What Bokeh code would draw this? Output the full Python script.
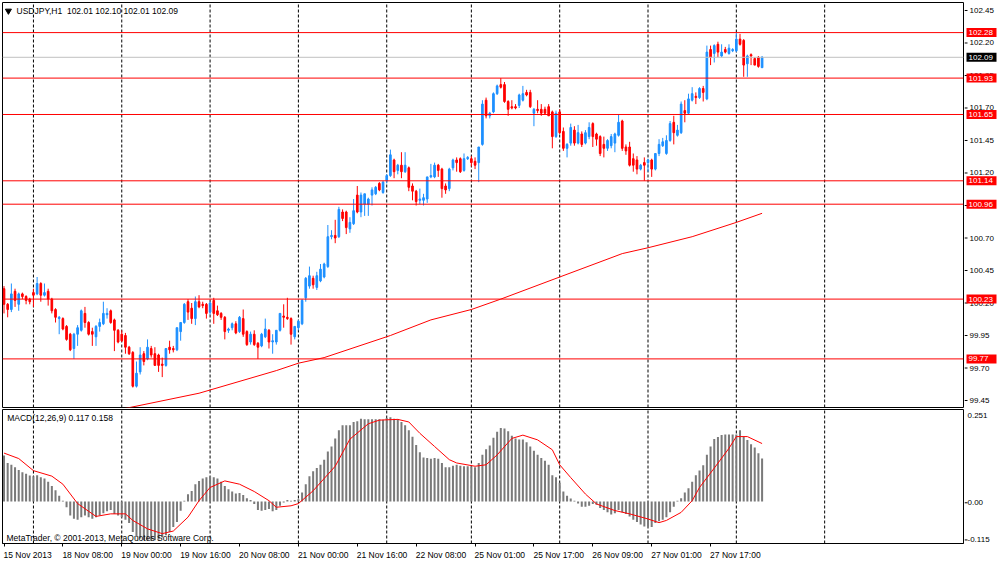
from bokeh.plotting import figure
from bokeh.models import ColumnDataSource, Range1d, FixedTicker
from bokeh.layouts import column, row
from bokeh.embed import file_html
from bokeh.resources import INLINE
from bokeh.core.properties import value

# ---------------- data ----------------
OPEN = [100.31,100.19,100.15,100.29,100.19,100.27,100.25,100.23,100.28,100.27,
        100.35,100.26,100.29,100.23,100.15,100.08,100.08,100.02,99.96,99.85,
        99.96,99.99,100.12,100.05,99.98,99.94,100.02,100.04,100.11,100.14,
        100.07,99.99,99.96,99.95,99.86,99.82,99.56,99.67,99.81,99.77,
        99.85,99.81,99.80,99.73,99.72,99.86,99.85,99.84,99.98,100.05,
        100.21,100.16,100.08,100.21,100.19,100.19,100.13,100.22,100.14,100.12,
        100.09,99.99,100.01,100.04,99.98,100.08,99.98,99.90,99.96,99.89,
        99.87,99.94,99.99,99.90,99.90,99.99,100.10,100.09,100.08,99.94,
        100.01,100.04,100.24,100.33,100.39,100.32,100.37,100.40,100.48,100.71,
        100.72,100.71,100.90,100.90,100.77,100.81,101.03,100.90,100.96,100.96,
        101.03,101.04,101.12,101.05,101.14,101.18,101.30,101.22,101.26,101.21,
        101.24,101.10,101.06,100.99,100.99,101.00,101.17,101.17,101.26,101.23,
        101.10,101.08,101.24,101.30,101.31,101.22,101.31,101.31,101.29,101.28,
        101.42,101.76,101.64,101.67,101.81,101.88,101.88,101.75,101.71,101.71,
        101.72,101.76,101.82,101.82,101.66,101.69,101.69,101.69,101.71,101.67,
        101.48,101.67,101.52,101.39,101.43,101.53,101.43,101.50,101.43,101.48,
        101.58,101.50,101.48,101.42,101.39,101.41,101.43,101.49,101.60,101.40,
        101.40,101.31,101.30,101.23,101.28,101.28,101.30,101.23,101.35,101.41,
        101.35,101.45,101.59,101.49,101.51,101.68,101.66,101.76,101.79,101.78,
        101.85,101.77,102.15,102.12,102.19,102.10,102.15,102.12,102.14,102.14,
        102.23,102.22,102.04,102.11,102.08,102.09,102.01]
HIGH = [100.33,100.20,100.35,100.31,100.28,100.28,100.26,100.24,100.31,100.40,
        100.36,100.35,100.31,100.24,100.16,100.10,100.09,100.03,99.97,99.97,
        100.03,100.15,100.17,100.06,100.01,100.03,100.08,100.21,100.16,100.15,
        100.08,100.00,99.99,99.97,99.87,99.83,99.75,99.86,99.83,99.92,
        99.87,99.86,99.81,99.78,99.85,99.91,99.87,100.01,100.05,100.20,
        100.23,100.20,100.25,100.26,100.21,100.20,100.21,100.24,100.18,100.13,
        100.10,100.01,100.05,100.06,100.10,100.15,99.99,99.98,99.99,99.90,
        99.97,100.08,100.00,99.96,99.99,100.12,100.19,100.24,100.09,100.02,
        100.07,100.23,100.40,100.48,100.41,100.44,100.50,100.51,100.80,100.76,
        100.84,100.94,100.92,100.91,100.86,101.00,101.10,101.05,101.04,101.01,
        101.09,101.10,101.13,101.14,101.19,101.38,101.31,101.27,101.36,101.36,
        101.25,101.12,101.07,101.08,101.04,101.17,101.27,101.28,101.27,101.24,
        101.12,101.24,101.31,101.32,101.32,101.35,101.33,101.33,101.32,101.40,
        101.76,101.78,101.67,101.82,101.88,101.93,101.90,101.76,101.76,101.73,
        101.81,101.87,101.84,101.84,101.70,101.76,101.73,101.71,101.73,101.68,
        101.68,101.69,101.55,101.43,101.58,101.56,101.57,101.52,101.53,101.59,
        101.59,101.51,101.49,101.48,101.46,101.50,101.51,101.65,101.61,101.42,
        101.44,101.35,101.33,101.27,101.32,101.31,101.31,101.35,101.46,101.47,
        101.49,101.60,101.64,101.57,101.75,101.76,101.81,101.86,101.82,101.86,
        101.87,102.18,102.18,102.19,102.21,102.19,102.17,102.19,102.16,102.28,
        102.27,102.23,102.11,102.12,102.09,102.10,102.10]
LOW = [100.12,100.09,100.13,100.17,100.14,100.23,100.19,100.19,100.17,100.26,
       100.21,100.25,100.18,100.12,100.05,99.96,99.99,99.91,99.83,99.77,
       99.87,99.98,100.01,99.95,99.87,99.87,99.98,100.03,100.08,100.04,
       99.83,99.89,99.90,99.81,99.80,99.55,99.55,99.65,99.72,99.76,
       99.78,99.72,99.67,99.63,99.71,99.81,99.82,99.83,99.91,100.04,
       100.07,100.04,100.03,100.16,100.16,100.08,100.11,100.04,100.10,100.07,
       99.92,99.97,99.99,99.96,99.97,99.94,99.87,99.88,99.87,99.77,
       99.86,99.93,99.85,99.81,99.88,99.98,100.01,100.07,99.88,99.92,
       99.99,100.03,100.21,100.31,100.31,100.30,100.36,100.39,100.47,100.69,
       100.66,100.70,100.83,100.73,100.74,100.80,100.89,100.86,100.87,100.87,
       100.95,101.03,101.06,101.04,101.12,101.17,101.16,101.19,101.16,101.20,
       101.06,100.99,100.95,100.96,100.95,100.97,101.16,101.16,101.17,101.01,
       101.04,101.06,101.22,101.21,101.20,101.21,101.30,101.25,101.23,101.13,
       101.41,101.62,101.62,101.66,101.80,101.85,101.74,101.64,101.69,101.69,
       101.70,101.75,101.79,101.70,101.56,101.66,101.64,101.65,101.64,101.39,
       101.47,101.50,101.37,101.32,101.41,101.41,101.42,101.40,101.42,101.46,
       101.40,101.41,101.33,101.32,101.37,101.39,101.36,101.48,101.37,101.34,
       101.25,101.21,101.19,101.22,101.14,101.21,101.17,101.22,101.33,101.40,
       101.34,101.44,101.42,101.48,101.50,101.59,101.65,101.75,101.73,101.77,
       101.75,101.76,102.03,102.05,102.09,102.09,102.12,102.11,102.13,102.13,
       102.18,101.94,101.94,102.03,102.03,102.01,102.01]
CLOSE = [100.19,100.15,100.27,100.22,100.27,100.25,100.22,100.21,100.26,100.35,
         100.26,100.28,100.23,100.14,100.09,100.09,100.00,99.92,99.84,99.96,
         100.01,100.14,100.05,99.96,99.96,100.02,100.05,100.12,100.12,100.05,
         99.99,99.90,99.91,99.86,99.81,99.56,99.66,99.80,99.75,99.86,
         99.80,99.72,99.72,99.72,99.85,99.84,99.84,100.01,100.05,100.19,
         100.13,100.08,100.21,100.17,100.18,100.12,100.20,100.12,100.11,100.09,
         99.98,100.00,100.04,99.97,100.09,99.96,99.88,99.96,99.88,99.86,
         99.96,100.00,99.90,99.91,99.99,100.12,100.09,100.08,99.96,100.02,
         100.06,100.22,100.39,100.41,100.34,100.41,100.46,100.50,100.71,100.72,
         100.70,100.92,100.85,100.78,100.82,100.91,100.90,101.03,101.04,101.00,
         101.07,101.09,101.07,101.13,101.18,101.34,101.21,101.26,101.21,101.26,
         101.09,101.06,100.98,101.00,101.01,101.17,101.18,101.26,101.22,101.08,
         101.07,101.23,101.30,101.28,101.21,101.31,101.32,101.28,101.26,101.40,
         101.73,101.64,101.66,101.81,101.87,101.86,101.75,101.69,101.70,101.70,
         101.80,101.81,101.80,101.71,101.69,101.68,101.66,101.66,101.64,101.48,
         101.66,101.51,101.39,101.42,101.55,101.43,101.51,101.42,101.51,101.55,
         101.48,101.46,101.35,101.39,101.45,101.48,101.50,101.59,101.39,101.37,
         101.26,101.26,101.23,101.26,101.26,101.30,101.23,101.35,101.42,101.44,
         101.45,101.58,101.51,101.53,101.73,101.66,101.77,101.81,101.78,101.85,
         101.82,102.13,102.09,102.18,102.13,102.13,102.13,102.16,102.15,102.23,
         102.19,102.03,102.10,102.10,102.03,102.02,102.09]

MACD = [0.1255,0.1048,0.1003,0.0932,0.0860,0.0797,0.0752,0.0707,0.0689,0.0716,
        0.0662,0.0627,0.0537,0.0420,0.0304,0.0151,0.0017,-0.0163,-0.0387,-0.0477,
        -0.0504,-0.0432,-0.0387,-0.0432,-0.0477,-0.0432,-0.0387,-0.0324,-0.0270,-0.0235,
        -0.0342,-0.0387,-0.0432,-0.0504,-0.0593,-0.0835,-0.0970,-0.1015,-0.1060,-0.1060,
        -0.1078,-0.1060,-0.1042,-0.0988,-0.0925,-0.0835,-0.0701,-0.0566,-0.0253,0.0017,
        0.0196,0.0286,0.0465,0.0555,0.0627,0.0662,0.0689,0.0662,0.0627,0.0537,
        0.0420,0.0331,0.0268,0.0214,0.0232,0.0178,0.0088,0.0035,-0.0073,-0.0235,
        -0.0253,-0.0235,-0.0208,-0.0270,-0.0235,-0.0118,-0.0028,0.0035,0.0017,0.0040,
        0.0061,0.0241,0.0465,0.0689,0.0824,0.0914,0.1003,0.1138,0.1362,0.1497,
        0.1721,0.1945,0.2080,0.2080,0.2080,0.2169,0.2187,0.2259,0.2241,0.2241,
        0.2241,0.2241,0.2241,0.2230,0.2277,0.2295,0.2259,0.2241,0.2169,0.2080,
        0.1945,0.1766,0.1542,0.1344,0.1201,0.1183,0.1165,0.1183,0.1165,0.1048,
        0.0932,0.0932,0.0976,0.1003,0.0976,0.0958,0.0958,0.0958,0.0932,0.1048,
        0.1273,0.1425,0.1524,0.1739,0.1900,0.2008,0.1990,0.1918,0.1793,0.1721,
        0.1694,0.1694,0.1613,0.1497,0.1380,0.1273,0.1183,0.1111,0.1003,0.0716,
        0.0662,0.0510,0.0268,0.0151,0.0079,0.0017,-0.0055,-0.0145,-0.0145,-0.0118,
        -0.0073,-0.0091,-0.0181,-0.0235,-0.0297,-0.0360,-0.0324,-0.0235,-0.0297,-0.0342,
        -0.0414,-0.0504,-0.0566,-0.0629,-0.0683,-0.0683,-0.0701,-0.0593,-0.0540,-0.0504,
        -0.0432,-0.0297,-0.0145,0.0017,0.0088,0.0241,0.0358,0.0537,0.0716,0.0842,
        0.0985,0.1273,0.1497,0.1703,0.1757,0.1811,0.1829,0.1829,0.1829,0.1829,
        0.1945,0.1766,0.1676,0.1560,0.1470,0.1317,0.1170]

SIG_BARS = [0,4,8,13,16,20,25,29,33,35,39,43,46,50,53,56,60,64,68,72,74,78,80,84,
            90,94,99,102,107,110,113,117,121,123,128,131,134,138,141,145,149,151,
            154,158,161,166,170,175,178,180,184,187,189,193,197,199,202,206]
SIG_VALS = [0.132,0.117,0.084,0.069,0.047,-0.006,-0.041,-0.034,-0.034,-0.052,-0.075,
            -0.088,-0.081,-0.043,0.002,0.038,0.056,0.047,0.027,0.002,-0.016,-0.012,
            -0.006,0.029,0.096,0.170,0.212,0.222,0.224,0.217,0.186,0.150,0.114,0.105,
            0.096,0.100,0.127,0.172,0.181,0.168,0.141,0.100,0.065,0.020,-0.007,-0.025,
            -0.034,-0.048,-0.058,-0.052,-0.030,0.002,0.038,0.091,0.145,0.177,0.177,0.158]

MA_BARS = [0,8,20,34,53,74,80,87,105,116,127,135,151,168,175,187,199,206]
MA_VALS = [99.20,99.25,99.32,99.395,99.506,99.68,99.737,99.78,99.95,100.07,100.15,
           100.23,100.40,100.58,100.625,100.71,100.82,100.89]

LEVELS = [102.28, 101.93, 101.65, 101.14, 100.96, 100.23, 99.77]
BID = 102.09
SEPARATORS = [8, 32, 56, 80, 104, 127, 151, 175, 199, 223]
PRICE_TICKS = [99.45, 99.70, 99.95, 100.20, 100.45, 100.70, 100.95, 101.20,
               101.45, 101.70, 101.95, 102.20, 102.45]
MACD_AXIS_TEXT = ["0.251", "0.00", "-0.115"]
DATE_TICKS = [0, 16, 32, 48, 64, 80, 96, 112, 128, 144, 160, 176, 192]
DATE_LABELS = ["15 Nov 2013", "18 Nov 08:00", "19 Nov 00:00", "19 Nov 16:00",
               "20 Nov 08:00", "21 Nov 00:00", "21 Nov 16:00", "22 Nov 08:00",
               "25 Nov 01:00", "25 Nov 17:00", "26 Nov 09:00", "27 Nov 01:00",
               "27 Nov 17:00"]
TITLE = "USDJPY,H1 \u00a0102.01 102.10 102.01 102.09"
MACD_TITLE = "MACD(12,26,9) 0.117 0.158"
COPYRIGHT = "MetaTrader, \u00a9 2001-2013, MetaQuotes Software Corp."

# ---------------- layout / style ----------------
FONT = "Liberation Sans"
BLUE = "#1E90FF"
RED = "#FF0000"
PX_PER_BAR = 3.68
XR = (-0.408, 260.73)
PY = (99.3962, 102.5115)
MY = (-0.115, 0.251)
MACD_AXIS_POS = [0.235, 0.0, -0.1]   # screen placement of the three MACD scale texts
CHAR_EM = {":": 0.278, " ": 0.278, "N": 0.722, "o": 0.556, "v": 0.5}


def label_offset_bars(txt, size_px=8.5):
    em = sum(CHAR_EM.get(ch, 0.556) for ch in txt)
    return round((em * size_px / 2.0 - 0.5) / PX_PER_BAR, 3)


def base_fig(w, h, xr, yr, top, bottom, left, right, xloc=None):
    f = figure(width=w, height=h, x_range=xr, y_range=yr, output_backend="svg",
               toolbar_location=None, x_axis_location=xloc, y_axis_location=None,
               min_border_left=left, min_border_right=right,
               min_border_top=top, min_border_bottom=bottom)
    f.grid.visible = False
    f.background_fill_color = "white"
    f.border_fill_color = "white"
    return f


# ---------------- main price panel ----------------
p1 = base_fig(964, 408, Range1d(*XR), Range1d(*PY), 2, 1, 2, 1)
p1.outline_line_color = "black"

n_sep = len(SEPARATORS)
p1.segment(x0=SEPARATORS, y0=[PY[0]] * n_sep, x1=SEPARATORS, y1=[PY[1]] * n_sep,
           line_color="black", line_width=1, line_dash="3 2")
p1.line(MA_BARS, MA_VALS, line_color=RED, line_width=1)


def candle_source(bull):
    d = dict(x=[], h=[], l=[], top=[], bottom=[])
    for i in range(len(CLOSE)):
        if (CLOSE[i] >= OPEN[i]) != bull:
            continue
        d["x"].append(i)
        d["h"].append(HIGH[i])
        d["l"].append(LOW[i])
        d["top"].append(max(OPEN[i], CLOSE[i]))
        d["bottom"].append(min(OPEN[i], CLOSE[i]))
    return ColumnDataSource(d)


for bull, col in ((True, BLUE), (False, RED)):
    s = candle_source(bull)
    p1.segment(x0="x", y0="l", x1="x", y1="h", source=s, line_color=col, line_width=1)
    p1.vbar(x="x", width=0.45, top="top", bottom="bottom", source=s,
            fill_color=col, line_color=col, line_width=1)

p1.segment(x0=[XR[0]], y0=[BID], x1=[XR[1]], y1=[BID], line_color="#C0C0C0", line_width=1)
n_lv = len(LEVELS)
p1.segment(x0=[XR[0]] * n_lv, y0=LEVELS, x1=[XR[1]] * n_lv, y1=LEVELS,
           line_color=RED, line_width=1)

p1.scatter([1.2], [102.447], marker="inverted_triangle", size=6,
           fill_color="black", line_color="black")
p1.text(x=[3.4], y=[102.447], text=[TITLE], text_font=value(FONT),
        text_font_size=value("8.5px"), text_baseline="middle", text_align="left",
        text_color="black")

# ---------------- price scale (right) ----------------
a1 = base_fig(36, 408, Range1d(0, 36), p1.y_range, 2, 1, 0, 0)
a1.outline_line_color = None
n_pt = len(PRICE_TICKS)
a1.segment(x0=[0] * n_pt, y0=PRICE_TICKS, x1=[3] * n_pt, y1=PRICE_TICKS,
           line_color="black", line_width=1)
a1.text(x=[5] * n_pt, y=PRICE_TICKS, text=["%.2f" % t for t in PRICE_TICKS],
        text_font=value(FONT), text_font_size=value("8px"), text_baseline="middle",
        text_align="left", text_color="black")
a1.rect(x=[17] * n_lv, y=LEVELS, width=30, height=9, height_units="screen",
        fill_color=RED, line_color=None)
a1.text(x=[4] * n_lv, y=LEVELS, text=["%.2f" % v for v in LEVELS],
        text_font=value(FONT), text_font_size=value("8px"), text_baseline="middle",
        text_align="left", text_color="white")
a1.rect(x=[17], y=[BID], width=30, height=9, height_units="screen",
        fill_color="black", line_color=None)
a1.text(x=[4], y=[BID], text=["%.2f" % BID], text_font=value(FONT),
        text_font_size=value("8px"), text_baseline="middle", text_align="left",
        text_color="white")

# ---------------- MACD panel ----------------
p2 = base_fig(964, 154, p1.x_range, Range1d(*MY), 1, 17, 2, 1, xloc="below")
p2.outline_line_color = "black"
ax = p2.xaxis[0]
label_pos = [t + label_offset_bars(l) for t, l in zip(DATE_TICKS, DATE_LABELS)]
ax.ticker = FixedTicker(ticks=label_pos, minor_ticks=DATE_TICKS)
ax.major_label_overrides = {pos: l for pos, l in zip(label_pos, DATE_LABELS)}
ax.axis_line_color = "black"
ax.major_tick_out = 0
ax.major_tick_in = 0
ax.minor_tick_out = 3
ax.minor_tick_in = 0
ax.minor_tick_line_color = "black"
ax.major_label_standoff = 3
ax.major_label_text_font = FONT
ax.major_label_text_font_size = "8.5px"
ax.major_label_text_color = "black"

p2.segment(x0=SEPARATORS, y0=[MY[0]] * n_sep, x1=SEPARATORS, y1=[MY[1]] * n_sep,
           line_color="black", line_width=1, line_dash="3 2")
p2.vbar(x=list(range(len(MACD))), width=0.55, top=MACD, bottom=0,
        fill_color="#7A7A7A", line_color=None)
p2.line(SIG_BARS, SIG_VALS, line_color=RED, line_width=1)
p2.text(x=[0.87], y=[0.2268], text=[MACD_TITLE], text_font=value(FONT),
        text_font_size=value("8.5px"), text_baseline="middle", text_align="left",
        text_color="black")
p2.text(x=[0.68], y=[-0.0988], text=[COPYRIGHT], text_font=value(FONT),
        text_font_size=value("8.5px"), text_baseline="middle", text_align="left",
        text_color="black")

# ---------------- MACD scale (right) ----------------
a2 = base_fig(36, 154, Range1d(0, 36), p2.y_range, 1, 17, 0, 0)
a2.outline_line_color = None
a2.segment(x0=[0, 0], y0=MACD_AXIS_POS[1:], x1=[3, 3], y1=MACD_AXIS_POS[1:],
           line_color="black", line_width=1)
a2.text(x=[3] * 3, y=MACD_AXIS_POS, text=MACD_AXIS_TEXT, text_font=value(FONT),
        text_font_size=value("8px"), text_baseline="middle", text_align="left",
        text_color="black")

layout = row(column(p1, p2), column(a1, a2))
open("out.html", "w").write(file_html(layout, INLINE))
